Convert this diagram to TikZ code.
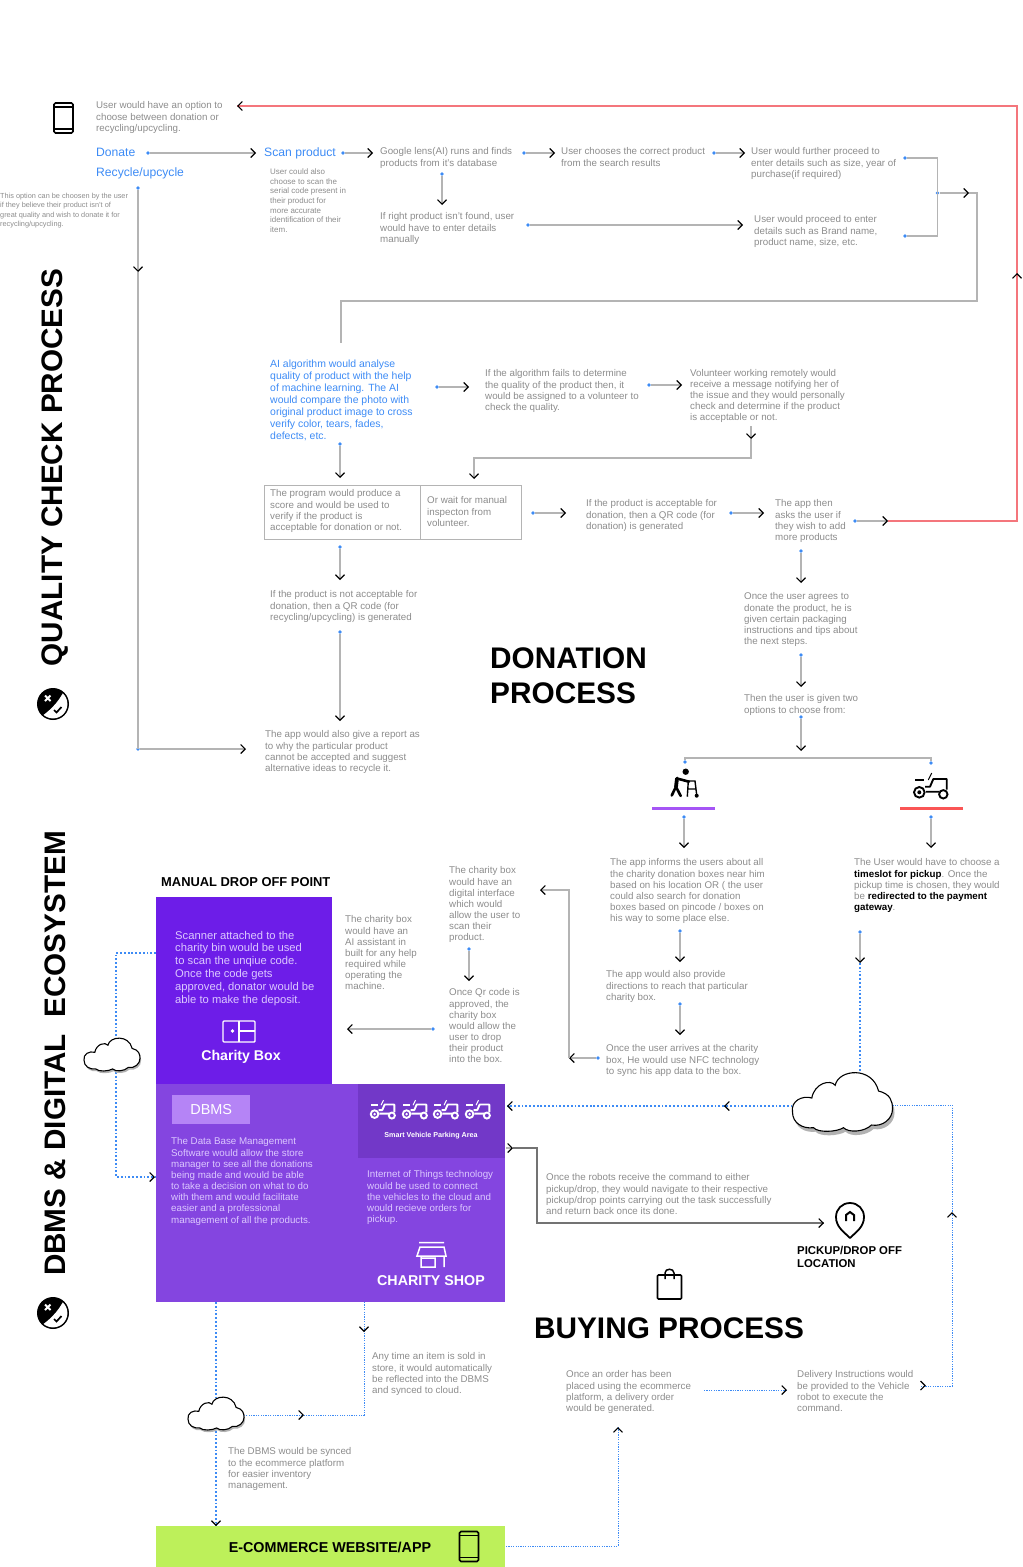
\documentclass[tikz,border=0pt]{standalone}
\usepackage{fontspec}
\setmainfont{Liberation Sans}
\usepackage{xcolor}
\usetikzlibrary{arrows.meta, positioning, calc}

\definecolor{notegray}{HTML}{8C8C8C}
\definecolor{linegray}{HTML}{B4B4B4}
\definecolor{flowblue}{HTML}{3D8BF5}
\definecolor{redline}{HTML}{F4767C}
\definecolor{binviolet}{HTML}{6D1DE8}
\definecolor{shopviolet}{HTML}{8445E0}
\definecolor{parkviolet}{HTML}{7238C8}
\definecolor{tagviolet}{HTML}{B584F6}
\definecolor{softviolet}{HTML}{DCC8FF}
\definecolor{lime}{HTML}{BDF05A}
\definecolor{walkbarcol}{HTML}{A555F5}
\definecolor{runbarcol}{HTML}{FA5555}

\newcommand{\cloudoutline}{(-50,11) .. controls (-52,0) and (-40,-6) .. (-30.7,-3) .. controls (-28,-18) and (-12,-22) .. (-7.3,-15.7) .. controls (-4,-32) and (30,-35) .. (36,-10) .. controls (48,-7) and (50,0) .. (50,8) .. controls (50,18) and (40,26) .. (29,24) .. controls (22,31) and (6,32) .. (1,26.7) .. controls (-6,31) and (-24,32) .. (-29,26.7) .. controls (-40,28) and (-50,22) .. cycle}

\tikzset{
  note/.style={anchor=north west, inner sep=0pt, align=left, yshift=-1.7pt, text=notegray, font=\fontsize{9.8}{11.2}\selectfont},
  tiny/.style={note, font=\fontsize{7.35}{9.6}\selectfont},
  bluetext/.style={note, text=flowblue, font=\fontsize{10.5}{12}\selectfont},
  menuitem/.style={note, text=flowblue, font=\fontsize{12.2}{14}\selectfont},
  paneltext/.style={note, text=softviolet},
  bigtitle/.style={note, text=black, font=\bfseries\fontsize{29.9}{35}\selectfont},
  sidetitle/.style={inner sep=0pt, rotate=90, text=black, font=\bfseries\fontsize{29.8}{32}\selectfont},
  dot/.style={circle, fill=flowblue, inner sep=0pt, minimum size=3.6bp},
  tip/.style={-{Straight Barb[black,length=4.5bp,width=9bp,line width=1.1pt]}},
  flow/.style={draw=linegray, line width=1.1pt, tip},
  plainflow/.style={draw=linegray, line width=1.1pt},
  redflow/.style={draw=redline, line width=1.1pt},
  sync/.style={draw=flowblue, line width=1.1pt, dash pattern=on 1.8pt off 2pt},
  thinsync/.style={draw=flowblue, line width=0.7pt, dash pattern=on 1.2pt off 1.2pt},
  panel/.style={anchor=north west, inner sep=0pt},
  phone/.pic={
    \draw[line width=1.7pt, rounded corners=1.5pt, pic actions] (-9.5,-15) rectangle (9.5,15);
    \draw[line width=1.7pt] (-9.5,-11) -- (9.5,-11) (-9.5,11) -- (9.5,11);
  },
  verdict/.pic={
    \fill[black] (0,0) circle (16);
    \begin{scope}
      \clip (0,0) circle (14.4);
      \fill[white] (-15,15) .. controls (-5,8) and (5,0) .. (12,-15) -- (20,20) -- cycle;
    \end{scope}
    \draw[white, line width=1.9pt] (-8,-8.5) -- (-2.5,-3) (-8,-3) -- (-2.5,-8.5);
    \draw[black, line width=1.7pt] (1,6) -- (3.5,8.5) -- (8.5,3);
  },
  tractor/.pic={
    \draw[line width=1.9pt] (-11.7,4.3) circle (5.3) (12.3,6.3) circle (4.2);
    \fill (-11.7,4.3) circle (2);
    \draw[line width=1.9pt, line join=round] (-6,-1.3) -- (-1,-1.3) -- (2.3,-9) -- (15.7,-9) -- (15.7,1.5) (-5,3.7) -- (8,3.7);
    \draw[line width=2.2pt] (-16,-8) -- (-7,-8);
    \draw[line width=1pt] (-2.7,-8) -- (0.7,-15);
  },
  walker/.pic={
    \fill (1.7,-13.3) circle (3.2);
    \draw[line width=3.8pt, line cap=round, line join=round] (-7,-6.5) -- (-8,1.7);
    \draw[line width=2.6pt, line cap=round, line join=round] (-8,1.7) -- (-12.3,10.5) (-8,1.7) -- (-3.3,11);
    \draw[line width=2.6pt, line cap=round] (-7,-6.5) -- (5,-3.3);
    \draw[line width=1.4pt] (3.3,11.7) -- (4.3,-4) -- (11,-4) -- (12.7,10) (4.3,4) -- (11.7,4);
    \fill (12.7,10.7) circle (2);
  },
  cloudpic/.pic={
    \fill[black!30, shift={(2,4)}] \cloudoutline;
    \draw[fill=white, line width=1.1pt] \cloudoutline;
    \coordinate (-w) at (-50,5);
    \coordinate (-e) at (50,5);
    \coordinate (-n) at (0,-28);
    \coordinate (-s) at (0,30);
  },
}

\begin{document}
\begin{tikzpicture}[x=1bp, y=-1bp]
\useasboundingbox (0,0) rectangle (1022,1567);

% Side titles
\node[sidetitle] (qualitytitle) at (55,467.5) {QUALITY CHECK PROCESS};
\node[sidetitle] (dbmstitle) at (55,1053.5) {DBMS \& DIGITAL\ \ ECOSYSTEM};
\pic at (53,704) {verdict};
\pic at (53,1313) {verdict};
\pic at (63.5,118) {phone};

% Choosing donation or recycling
\node[note] (choose) at (96,100) {User would have an option to\\choose between donation or\\recycling/upcycling.};
\node[menuitem] (donate) at (96,146) {Donate};
\node[menuitem] (recycle) at (96,166) {Recycle/upcycle};
\node[tiny] (recyclenote) at (0,191) {This option can be choosen by the user\\if they believe their product isn't of\\great quality and wish to donate it for\\recycling/upcycling.};

% Scanning the product
\node[menuitem] (scan) at (264,146) {Scan product};
\node[tiny, font=\fontsize{8}{9.7}\selectfont] (scannote) at (270,167) {User could also\\choose to scan the\\serial code present in\\their product for\\more accurate\\identification of their\\item.};
\node[note] (lens) at (380,146) {Google lens(AI) runs and finds\\products from it's database};
\node[note] (notfound) at (380,211) {If right product isn't found, user\\would have to enter details\\manually};
\node[note] (correct) at (561,146) {User chooses the correct product\\from the search results};
\node[note] (further) at (751,146) {User would further proceed to\\enter details such as size, year of\\purchase(if required)};
\node[note] (brand) at (754,214) {User would proceed to enter\\details such as Brand name,\\product name, size, etc.};

\node[dot] (donatedot) at (148,153) {};
\coordinate (scantip) at (256,153);
\draw[flow] (donatedot) -- (scantip);
\node[dot] (scandot) at (343,153) {};
\coordinate (lenstip) at (373,153);
\draw[flow] (scandot) -- (lenstip);
\node[dot] (lensdot) at (524,153) {};
\coordinate (correcttip) at (555,153);
\draw[flow] (lensdot) -- (correcttip);
\node[dot] (correctdot) at (714,153) {};
\coordinate (furthertip) at (745,153);
\draw[flow] (correctdot) -- (furthertip);
\node[dot] (lensdown) at (442,174) {};
\coordinate (notfoundtip) at (442,205);
\draw[flow] (lensdown) -- (notfoundtip);
\node[dot] (notfounddot) at (528,225) {};
\coordinate (brandtip) at (743,225);
\draw[flow] (notfounddot) -- (brandtip);

% Joining both detail branches
\node[dot] (furtherdot) at (905,158) {};
\node[dot] (branddot) at (905,236) {};
\node[dot] (joindot) at (937.5,193) {};
\coordinate (jointip) at (969,193);
\coordinate (joincorner) at (977,193);
\coordinate (lowcorner) at (977,301);
\coordinate (aitop) at (341,343);
\draw[plainflow] (furtherdot) -| (joindot.center) |- (branddot);
\draw[flow] (joindot) -- (jointip);
\draw[plainflow] (jointip) -- (joincorner) -- (lowcorner) -| (aitop);

% Quality check
\node[bluetext] (aicheck) at (270,358) {AI algorithm would analyse\\quality of product with the help\\of machine learning. The AI\\would compare the photo with\\original product image to cross\\verify color, tears, fades,\\defects, etc.};
\node[note] (fails) at (485,368) {If the algorithm fails to determine\\the quality of the product then, it\\would be assigned to a volunteer to\\check the quality.};
\node[note, font=\fontsize{9.8}{11}\selectfont] (volunteer) at (690,368) {Volunteer working remotely would\\receive a message notifying her of\\the issue and they would personally\\check and determine if the product\\is acceptable or not.};
\node[dot] (aidot) at (437,387) {};
\coordinate (failstip) at (469,387);
\draw[flow] (aidot) -- (failstip);
\node[dot] (failsdot) at (649,385) {};
\coordinate (volunteertip) at (682,385);
\draw[flow] (failsdot) -- (volunteertip);
\node[dot] (aidown) at (340,444) {};
\coordinate (programtip) at (340,478);
\draw[flow] (aidown) -- (programtip);
\coordinate (volunteerdot) at (751,426);
\coordinate (volunteerdown) at (751,439);
\coordinate (manualtip) at (474,479);
\draw[flow] (volunteerdot) -- (volunteerdown);
\draw[flow] (volunteerdown) |- ($(manualtip)+(0,-21)$) -- (manualtip);

% Score boxes
\node[panel, draw=linegray, line width=0.6pt, minimum width=156bp, minimum height=54bp] (programbox) at (264,485) {};
\node[panel, draw=linegray, line width=0.6pt, minimum width=101bp, minimum height=54bp] (manualbox) at (420,485) {};
\node[note] (program) at (270,488) {The program would produce a\\score and would be used to\\verify if the product is\\acceptable for donation or not.};
\node[note] (manual) at (427,495) {Or wait for manual\\inspecton from\\volunteer.};
\node[note] (qrdonate) at (586,498) {If the product is acceptable for\\donation, then a QR code (for\\donation) is generated};
\node[note] (addmore) at (775,498) {The app then\\asks the user if\\they wish to add\\more products};
\node[note] (qrrecycle) at (270,589) {If the product is not acceptable for\\donation, then a QR code (for\\recycling/upcycling) is generated};
\node[note] (report) at (265,729) {The app would also give a report as\\to why the particular product\\cannot be accepted and suggest\\alternative ideas to recycle it.};

\node[dot] (manualdot) at (533,513) {};
\coordinate (qrtip) at (566,513);
\draw[flow] (manualdot) -- (qrtip);
\node[dot] (qrdot) at (731,513) {};
\coordinate (addtip) at (764,513);
\draw[flow] (qrdot) -- (addtip);
\node[dot] (programdown) at (340,547) {};
\coordinate (qrrecycletip) at (340,580);
\draw[flow] (programdown) -- (qrrecycletip);
\node[dot] (qrrecycledot) at (340,632) {};
\coordinate (reporttip) at (340,721);
\draw[flow] (qrrecycledot) -- (reporttip);

% Long way back to the top
\node[dot] (adddot) at (855,521) {};
\coordinate (addout) at (888,521);
\coordinate (redcorner) at (1017,521);
\coordinate (redmid) at (1017,273);
\coordinate (redtop) at (1017,106);
\coordinate (choosetip) at (237,106);
\draw[redflow] (addout) -- (redcorner) -- (redmid) -- (redtop) -- (choosetip);
\draw[flow] (adddot) -- (addout);
\draw[redflow, tip, draw=redline] (redcorner) -- (redmid);
\draw[redflow, tip] (redtop) -- (choosetip);

% Recycling branch
\node[dot] (recycledot) at (138,188) {};
\coordinate (recyclemid) at (138,272);
\node[dot] (recyclecorner) at (138,749) {};
\coordinate (reportlefttip) at (246,749);
\draw[flow] (recycledot) -- (recyclemid);
\draw[plainflow] (recyclemid) -- (recyclecorner.center);
\draw[flow] (recyclecorner) -- (reportlefttip);

% Donation process
\node[bigtitle] (donationtitle) at (490,646) {DONATION\\PROCESS};
\node[note] (agrees) at (744,591) {Once the user agrees to\\donate the product, he is\\given certain packaging\\instructions and tips about\\the next steps.};
\node[note] (twoopts) at (744,693) {Then the user is given two\\options to choose from:};
\node[dot] (adddown) at (801,551) {};
\coordinate (agreestip) at (801,583);
\draw[flow] (adddown) -- (agreestip);
\node[dot] (agreesdot) at (801,655) {};
\coordinate (twotip) at (801,687);
\draw[flow] (agreesdot) -- (twotip);
\node[dot] (twodot) at (801,717) {};
\coordinate (splittip) at (801,751);
\draw[flow] (twodot) -- (splittip);
\node[dot] (walkdot) at (685,762) {};
\node[dot] (rundot) at (931,763) {};
\coordinate (splitl) at (685,758);
\coordinate (splitr) at (931,758);
\draw[plainflow] (walkdot) -- (splitl) -- (splitr) -- (rundot);

% Two ways of handing over
\pic at (684,785) {walker};
\pic at (931,788) {tractor};
\node[panel, fill=walkbarcol, minimum width=63bp, minimum height=3.2bp] (walkbar) at (652,807) {};
\node[panel, fill=runbarcol, minimum width=63bp, minimum height=3.2bp] (runbar) at (900,807) {};
\node[dot] (walkdown) at (684,817) {};
\coordinate (informtip) at (684,848);
\draw[flow] (walkdown) -- (informtip);
\node[dot] (rundown) at (931,817) {};
\coordinate (timeslottip) at (931,848);
\draw[flow] (rundown) -- (timeslottip);

\node[note] (inform) at (610,857) {The app informs the users about all\\the charity donation boxes near him\\based on his location OR ( the user\\could also search for donation\\boxes based on pincode / boxes on\\his way to some place else.};
\node[note] (timeslot) at (854,857) {The User would have to choose a\\{\color{black}\bfseries timeslot for pickup}. Once the\\pickup time is chosen, they would\\be {\color{black}\bfseries redirected to the payment}\\{\color{black}\bfseries gateway}.};
\node[note] (directions) at (606,969) {The app would also provide\\directions to reach that particular\\charity box.};
\node[note] (nfc) at (606,1043) {Once the user arrives at the charity\\box, He would use NFC technology\\to sync his app data to the box.};
\node[note] (digital) at (449,865) {The charity box\\would have an\\digital interface\\which would\\allow the user to\\scan their\\product.};
\node[note] (approved) at (449,987) {Once Qr code is\\approved, the\\charity box\\would allow the\\user to drop\\their product\\into the box.};
\node[note] (assistant) at (345,914) {The charity box\\would have an\\AI assistant in\\built for any help\\required while\\operating the\\machine.};

\node[dot] (informdot) at (680,931) {};
\coordinate (directionstip) at (680,962);
\draw[flow] (informdot) -- (directionstip);
\node[dot] (directionsdot) at (680,1004) {};
\coordinate (nfctiptop) at (680,1035);
\draw[flow] (directionsdot) -- (nfctiptop);
\node[dot] (nfcdot) at (598,1058) {};
\coordinate (nfctip) at (569,1058);
\coordinate (digitaltip) at (540,890);
\draw[flow] (nfcdot) -- (nfctip);
\draw[flow] (nfctip) |- (digitaltip);
\node[dot] (digitaldot) at (469,949) {};
\coordinate (approvedtip) at (469,981);
\draw[flow] (digitaldot) -- (approvedtip);
\node[dot] (approveddot) at (433,1029) {};
\coordinate (assistanttip) at (347,1029);
\draw[flow] (approveddot) -- (assistanttip);

% Manual drop off point and charity shop
\node[note, text=black, font=\bfseries\fontsize{12.95}{15}\selectfont] (dropoff) at (161,876) {MANUAL DROP OFF POINT};
\node[panel, fill=binviolet, minimum width=176bp, minimum height=187bp] (charitybin) at (156,897) {};
\node[panel, fill=shopviolet, minimum width=349bp, minimum height=218bp] (charityshop) at (156,1084) {};
\node[panel, fill=parkviolet, minimum width=147bp, minimum height=74bp] (parking) at (358,1084) {};
\node[panel, fill=tagviolet, text=white, minimum width=78bp, minimum height=29bp, font=\fontsize{14.5}{16}\selectfont, align=center, text height=10bp] (dbmstag) at (172,1095) {DBMS};

\node[paneltext, font=\fontsize{11.27}{12.85}\selectfont] (scanner) at (175,929) {Scanner attached to the\\charity bin would be used\\to scan the unqiue code.\\Once the code gets\\approved, donator would be\\able to make the deposit.};
\draw[white, line width=1.4pt, rounded corners=1pt] (223,1021) rectangle (255,1042);
\draw[white, line width=1.4pt] (239,1021) -- (239,1042) (239,1031) -- (255,1031);
\fill[white] (232.5,1031) circle (1.8);
\node[text=white, inner sep=0pt, font=\bfseries\fontsize{14.2}{16}\selectfont] (binlabel) at (241,1057) {Charity Box};

\node[paneltext, text=softviolet] (dbmstext) at (171,1136) {The Data Base Management\\Software would allow the store\\manager to see all the donations\\being made and would be able\\to take a decision on what to do\\with them and would facilitate\\easier and a professional\\management of all the products.};
\begin{scope}[white]
\foreach \xpos in {383,415,446,478}
  \pic[scale=0.72] at (\xpos,1111) {tractor};
\end{scope}
\node[text=white, inner sep=0pt, font=\bfseries\fontsize{7.2}{8}\selectfont] (parklabel) at (431,1136) {Smart Vehicle Parking Area};
\node[paneltext] (iot) at (367,1169) {Internet of Things technology\\would be used to connect\\the vehicles to the cloud and\\would recieve orders for\\pickup.};
\draw[white, line width=1.5pt] (419,1242.5) -- (444,1242.5) (420,1247) -- (444,1247) -- (446,1256) -- (417,1256) -- cycle (421,1256) -- (421,1267) -- (435,1267) -- (435,1258) -- (421,1258) (444,1256) -- (444,1267);
\node[text=white, inner sep=0pt, font=\bfseries\fontsize{14.3}{16}\selectfont] (shoplabel) at (431,1281) {CHARITY SHOP};

% Left cloud between box and shop
\coordinate (binleft) at (156,953);
\coordinate (binbend) at (116,953);
\coordinate (shopbend) at (116,1177);
\coordinate (shoptip) at (155,1177);
\draw[sync] (binleft) -- (binbend) -- (shopbend) -- (shoptip);
\draw[tip, draw=flowblue, line width=0.8pt] ($(shoptip)+(-3,0)$) -- (shoptip);
\pic (cloudl) [scale=0.56] at (112,1054) {cloudpic};

% Cloud next to the pickup location
\node[dot] (timeslotdot) at (860,932) {};
\coordinate (timeslotdown) at (860,963);
\coordinate (cloudrtop) at (860,1075);
\draw[sync] (timeslotdown) -- (cloudrtop);
\draw[flow] (timeslotdot) -- (timeslotdown);
\coordinate (parkingstart) at (800,1106);
\coordinate (parkingmid) at (724,1106);
\coordinate (parkingtip) at (507,1106);
\draw[sync] (parkingstart) -- (parkingmid);
\draw[sync] (parkingmid) -- (parkingtip);
\draw[tip, draw=flowblue, line width=0.8pt] ($(parkingmid)+(3,0)$) -- (parkingmid);
\draw[tip, draw=flowblue, line width=0.8pt] ($(parkingtip)+(3,0)$) -- (parkingtip);
\pic (cloudr) at (842.5,1101) {cloudpic};
\coordinate (rightbend) at (952,1105);
\coordinate (rightmid) at (952,1212);
\coordinate (rightlow) at (952,1386);
\coordinate (deliverytip) at (921,1386);
\draw[thinsync] (cloudr-e) ++(0,-1) -- (rightbend) -- (rightlow) -- (deliverytip);
\draw[tip, draw=flowblue, line width=0.6pt] ($(rightmid)+(0,3)$) -- (rightmid);
\draw[black, line width=1.1pt] (920.5,1381) -- (925,1385.5) -- (920.5,1390);

% Robots and pickup location
\coordinate (shopout) at (506,1148);
\coordinate (shoptipout) at (513,1148);
\coordinate (shopcorner) at (537,1148);
\coordinate (pintip) at (824,1223);
\draw[draw=black!55, line width=1.1pt] (shoptipout) -- (shopcorner) |- (pintip);
\draw[draw=black!55, line width=1.1pt, tip] ($(pintip)+(-3,0)$) -- (pintip);
\draw[flow] (shopout) -- (shoptipout);
\node[note] (robots) at (546,1172) {Once the robots receive the command to either\\pickup/drop, they would navigate to their respective\\pickup/drop points carrying out the task successfully\\and return back once its done.};
\draw[line width=1.8pt, line join=round] (850,1238) .. controls (844,1232) and (836,1227) .. (836,1217) .. controls (836,1209) and (842,1203) .. (850,1203) .. controls (858,1203) and (864,1209) .. (864,1217) .. controls (864,1227) and (856,1232) .. (850,1238) -- cycle;
\draw[line width=2pt] (846,1221) -- (846,1215) -- (850,1212) -- (854,1215) -- (854,1221);
\node[note, text=black, font=\bfseries\fontsize{11.4}{13.6}\selectfont] (pinlabel) at (797,1244) {PICKUP/DROP OFF\\LOCATION};

% Buying process
\draw[line width=1.7pt, rounded corners=1pt] (657.5,1275) rectangle (681.5,1299);
\draw[line width=1.5pt] (665,1279) -- (665,1273) .. controls (665,1268) and (674,1268) .. (674,1273) -- (674,1279);
\node[bigtitle, anchor=center] (buyingtitle) at (669,1327) {BUYING PROCESS};
\node[note] (order) at (566,1369) {Once an order has been\\placed using the ecommerce\\platform, a delivery order\\would be generated.};
\node[note] (delivery) at (797,1369) {Delivery Instructions would\\be provided to the Vehicle\\robot to execute the\\command.};
\coordinate (orderstart) at (704,1390);
\coordinate (ordertip) at (787,1390);
\draw[thinsync] (orderstart) -- (ordertip);
\draw[tip, draw=flowblue, line width=0.6pt] ($(ordertip)+(-3,0)$) -- (ordertip);

% Notes under the shop
\node[note] (anytime) at (372,1351) {Any time an item is sold in\\store, it would automatically\\be reflected into the DBMS\\and synced to cloud.};
\node[note] (syncnote) at (228,1446) {The DBMS would be synced\\to the ecommerce platform\\for easier inventory\\management.};
\coordinate (shopbottoml) at (216,1302);
\coordinate (shopbottomr) at (364,1302);
\coordinate (anytimemid) at (364,1332);
\coordinate (lowbend) at (364,1415);
\coordinate (lowmid) at (304,1415);
\coordinate (cloudbright) at (230,1415);
\coordinate (webtip) at (216,1526);
\draw[sync] (shopbottoml) -- (webtip);
\draw[tip, draw=flowblue, line width=0.6pt] ($(webtip)+(0,-3)$) -- (webtip);
\draw[thinsync, line width=0.9pt] (shopbottomr) -- (lowbend) -- (cloudbright);
\draw[tip, draw=flowblue, line width=0.6pt] ($(anytimemid)+(0,-3)$) -- (anytimemid);
\draw[tip, draw=flowblue, line width=0.6pt] ($(lowmid)+(-3,0)$) -- (lowmid);
\pic (cloudb) [scale=0.56] at (216,1413) {cloudpic};

% E-commerce strip
\node[panel, fill=lime, minimum width=349bp, minimum height=41bp] (ecommerce) at (156,1526) {};
\node[text=black, inner sep=0pt, font=\bfseries\fontsize{14.4}{16}\selectfont] (ecommercelabel) at (330,1547) {E-COMMERCE WEBSITE/APP};
\pic at (469,1546.5) {phone};
\coordinate (webout) at (506,1546);
\coordinate (webcorner) at (618,1546);
\coordinate (ordertop) at (618,1427);
\draw[thinsync, line width=0.9pt] (webout) -- (webcorner) -- (ordertop);
\draw[tip, draw=flowblue, line width=0.6pt] ($(ordertop)+(0,3)$) -- (ordertop);

\end{tikzpicture}
\end{document}
